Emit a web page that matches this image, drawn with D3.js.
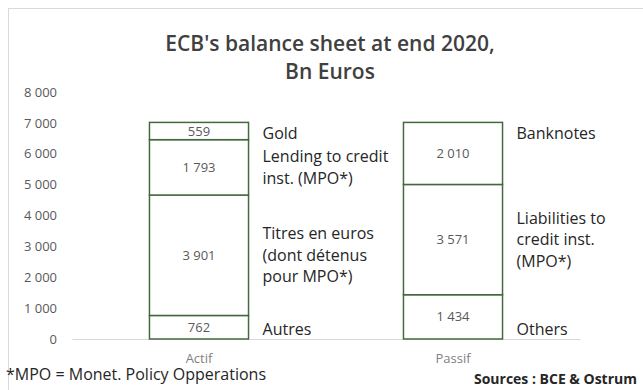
<!DOCTYPE html>
<html>
<head>
<meta charset="utf-8">
<script src="https://cdn.jsdelivr.net/npm/d3@7"></script>
<style>
  body { margin: 0; background: #fff; }
  text { font-family: "Open Sans", "Noto Sans", sans-serif; }
</style>
</head>
<body>
<div id="chart"></div>
<script>
// data (bottom to top)
const categories = ["Actif", "Passif"];
const actifValues = [762, 3901, 1793, 559];
const passifValues = [1434, 3571, 2010];
const actifNames = [["Autres"], ["Titres en euros", "(dont détenus", "pour MPO*)"], ["Lending to credit", "inst. (MPO*)"], ["Gold"]];
const passifNames = [["Others"], ["Liabilities to", "credit inst.", "(MPO*)"], ["Banknotes"]];
const yTicks = [0, 1000, 2000, 3000, 4000, 5000, 6000, 7000, 8000];

const width = 643, height = 390;
const margin = { top: 92, right: 63, bottom: 51, left: 72 };

const svg = d3.select("#chart").append("svg")
  .attr("width", width)
  .attr("height", height);

// outer chart frame
svg.append("rect")
  .attr("x", 8.5).attr("y", 8.5)
  .attr("width", width + 20).attr("height", height + 20)
  .attr("fill", "none").attr("stroke", "#d9d9d9");

const x = d3.scaleBand()
  .domain(categories)
  .range([margin.left, width - margin.right])
  .paddingInner(0.61).paddingOuter(0.305);

const y = d3.scaleLinear()
  .domain([0, 8000])
  .range([height - margin.bottom, margin.top]);

const fmt = d => d3.format(",")(d).replace(/,/g, "\u00A0");

// title
svg.append("text")
  .attr("x", 330).attr("y", 51)
  .attr("text-anchor", "middle")
  .attr("font-size", 21).attr("font-weight", 600)
  .attr("fill", "#404040")
  .text("ECB's balance sheet at end 2020,");
svg.append("text")
  .attr("x", 330).attr("y", 79)
  .attr("text-anchor", "middle")
  .attr("font-size", 21).attr("font-weight", 600)
  .attr("fill", "#404040")
  .text("Bn Euros");

// y axis (labels only)
const yAxis = svg.append("g")
  .attr("transform", `translate(${margin.left - 15},0)`)
  .call(d3.axisLeft(y).tickValues(yTicks).tickSize(0).tickPadding(0).tickFormat(fmt));
yAxis.select(".domain").remove();
yAxis.selectAll("text")
  .attr("font-size", 13).attr("fill", "#595959")
  .style("font-family", "'Open Sans', sans-serif");

// x axis
const xAxis = svg.append("g")
  .attr("transform", `translate(0,${y(0)})`)
  .call(d3.axisBottom(x).tickSize(0).tickPadding(15));
xAxis.select(".domain").attr("stroke", "#d9d9d9");
xAxis.selectAll("text")
  .attr("font-size", 13).attr("fill", "#7f7f7f")
  .style("font-family", "'Open Sans', sans-serif");

function stackUp(values) {
  let acc = 0;
  return values.map(v => { const s = { y0: acc, y1: acc + v, v: v }; acc += v; return s; });
}

const stacks = [
  { cat: "Actif", segs: stackUp(actifValues), names: actifNames },
  { cat: "Passif", segs: stackUp(passifValues), names: passifNames }
];

const lineH = 21.5;

stacks.forEach(st => {
  const g = svg.append("g");
  g.selectAll("rect")
    .data(st.segs)
    .enter().append("rect")
    .attr("x", x(st.cat))
    .attr("width", x.bandwidth())
    .attr("y", d => y(d.y1))
    .attr("height", d => y(d.y0) - y(d.y1))
    .attr("fill", "#fff")
    .attr("stroke", "#44693f")
    .attr("stroke-width", 1.5);

  g.selectAll("text.val")
    .data(st.segs)
    .enter().append("text")
    .attr("class", "val")
    .attr("x", x(st.cat) + x.bandwidth() / 2)
    .attr("y", d => (y(d.y0) + y(d.y1)) / 2)
    .attr("dy", "0.35em")
    .attr("text-anchor", "middle")
    .attr("font-size", 13).attr("fill", "#595959")
    .text(d => fmt(d.v));

  // side labels
  st.segs.forEach((d, i) => {
    const lines = st.names[i];
    let cy = (y(d.y0) + y(d.y1)) / 2;
    if (i === 0) cy = y(0) - 10;
    if (i === st.segs.length - 1 && lines.length === 1) cy = y(d.y1) + 11;
    const lx = x(st.cat) + x.bandwidth() + 14;
    lines.forEach((t, k) => {
      g.append("text")
        .attr("x", lx)
        .attr("y", cy + (k - (lines.length - 1) / 2) * lineH)
        .attr("dy", "0.35em")
        .attr("font-size", 16).attr("fill", "#262626")
        .text(t);
    });
  });
});

// footnotes
svg.append("text")
  .attr("x", 6).attr("y", 380)
  .attr("font-size", 16).attr("fill", "#262626")
  .text("*MPO = Monet. Policy Opperations");
svg.append("text")
  .attr("x", 637).attr("y", 384)
  .attr("text-anchor", "end")
  .attr("font-size", 14).attr("font-weight", 700).attr("fill", "#262626")
  .text("Sources : BCE & Ostrum");
</script>
</body>
</html>
